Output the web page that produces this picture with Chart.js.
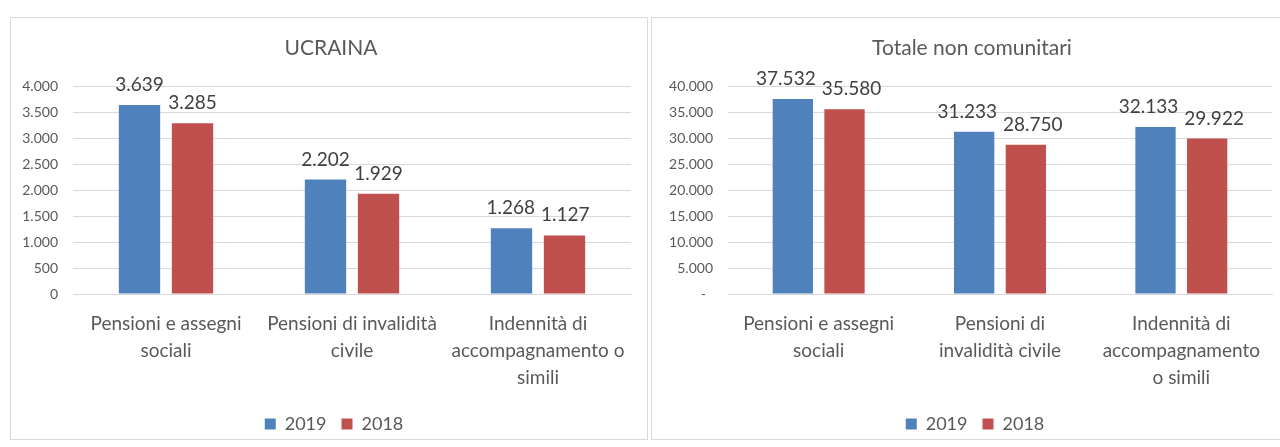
<!DOCTYPE html>
<html><head><meta charset="utf-8">
<script src="https://cdn.jsdelivr.net/npm/chart.js@4.4.1/dist/chart.umd.min.js"></script>
<style>
html,body{margin:0;padding:0;width:1280px;height:447px;overflow:hidden;background:#fff;}
.box{position:absolute;top:17px;width:636px;height:421px;border:1px solid #D9D9D9;background:#fff;overflow:visible;}
#b1{left:10px;} #b2{left:651px;}
canvas{display:block;position:absolute;left:0;top:0;}
</style></head><body>
<div class="box" id="b1"><canvas id="c1" width="636" height="425"></canvas></div>
<div class="box" id="b2"><canvas id="c2" width="636" height="425"></canvas></div>
<script>
const seriesNames = ['2019', '2018'];
const seriesColors = ['#4F81BD', '#C0504D'];

const ucrainaTitle = 'UCRAINA';
const ucrainaCategories = [['Pensioni e assegni', 'sociali'], ['Pensioni di invalidità', 'civile'], ['Indennità di', 'accompagnamento o', 'simili']];
const ucraina2019 = [3639, 2202, 1268];
const ucraina2018 = [3285, 1929, 1127];
const ucrainaTicks = ['0', '500', '1.000', '1.500', '2.000', '2.500', '3.000', '3.500', '4.000'];
const ucrainaMax = 4000, ucrainaStep = 500;

const totaleTitle = 'Totale non comunitari';
const totaleCategories = [['Pensioni e assegni', 'sociali'], ['Pensioni di', 'invalidità civile'], ['Indennità di', 'accompagnamento', 'o simili']];
const totale2019 = [37532, 31233, 32133];
const totale2018 = [35580, 28750, 29922];
const totaleTicks = ['-  ', '5.000', '10.000', '15.000', '20.000', '25.000', '30.000', '35.000', '40.000'];
const totaleMax = 40000, totaleStep = 5000;

const FONT = "Lato, 'Open Sans', sans-serif";
const TXT = '#595959';

function fmt(v) { return String(v).replace(/\B(?=(\d{3})+(?!\d))/g, '.'); }

const valueLabels = {
  id: 'valueLabels',
  afterDatasetsDraw(chart) {
    const ctx = chart.ctx;
    ctx.save();
    ctx.font = '19px ' + FONT;
    ctx.fillStyle = '#404040';
    ctx.textAlign = 'center';
    ctx.textBaseline = 'alphabetic';
    const n = chart.data.labels.length;
    for (let i = 0; i < n; i++) {
      const items = chart.data.datasets.map((ds, di) => {
        const el = chart.getDatasetMeta(di).data[i];
        const text = fmt(ds.data[i]);
        return { x: el.x, y: el.y - 14, w: ctx.measureText(text).width, text };
      });
      for (let k = 1; k < items.length; k++) {
        const a = items[k - 1], b = items[k];
        const need = (a.w + b.w) / 2 + 6;
        if (Math.abs(a.y - b.y) < 14 && b.x - a.x < need) {
          const d = (need - (b.x - a.x)) / 2; a.x -= d; b.x += d;
        }
      }
      items.forEach(it => ctx.fillText(it.text, it.x, it.y));
    }
    ctx.restore();
  }
};

// centre title and legend on the whole chart box (as in the original), not on the area left of the right padding
const boxCentre = {
  id: 'boxCentre',
  afterLayout(chart) {
    if (chart.legend) { chart.legend.left += 13; chart.legend.right += 13; }
    if (chart.titleBlock) { chart.titleBlock.left += 10; chart.titleBlock.right += 10; }
  }
};

function makeChart(id, title, cats, d19, d18, ticks, max, step, yWidth) {
  new Chart(document.getElementById(id), {
    type: 'bar',
    data: {
      labels: cats,
      datasets: [
        { label: seriesNames[0], data: d19, backgroundColor: seriesColors[0], categoryPercentage: 0.57, barPercentage: 0.78 },
        { label: seriesNames[1], data: d18, backgroundColor: seriesColors[1], categoryPercentage: 0.57, barPercentage: 0.78 }
      ]
    },
    options: {
      responsive: false,
      animation: false,
      devicePixelRatio: 1,
      layout: { padding: { left: 0, right: 16, top: 0, bottom: 0 } },
      plugins: {
        title: { display: true, text: title, color: TXT, font: { family: FONT, size: 21, weight: 'normal' }, padding: { top: 18, bottom: 25 } },
        legend: { position: 'bottom', labels: { color: TXT, font: { family: FONT, size: 18 }, boxWidth: 11, boxHeight: 11, padding: 15 } },
        tooltip: { enabled: false }
      },
      scales: {
        x: {
          grid: { display: false },
          border: { display: true, color: '#D9D9D9' },
          ticks: { color: TXT, font: { family: FONT, size: 19, lineHeight: 1.42 }, padding: 8, maxRotation: 0, autoSkip: false },
          afterFit(s) { s.height = 106; }
        },
        y: {
          min: 0, max: max,
          grid: { color: '#D9D9D9', drawTicks: false },
          border: { display: false },
          ticks: { stepSize: step, color: TXT, font: { family: FONT, size: 14 }, padding: 15,
            callback: (v, i) => ticks[i] },
          afterFit(s) { s.width = yWidth; }
        }
      }
    },
    plugins: [valueLabels, boxCentre]
  });
}

makeChart('c1', ucrainaTitle, ucrainaCategories, ucraina2019, ucraina2018, ucrainaTicks, ucrainaMax, ucrainaStep, 62);
makeChart('c2', totaleTitle, totaleCategories, totale2019, totale2018, totaleTicks, totaleMax, totaleStep, 76);
</script>
</body></html>
